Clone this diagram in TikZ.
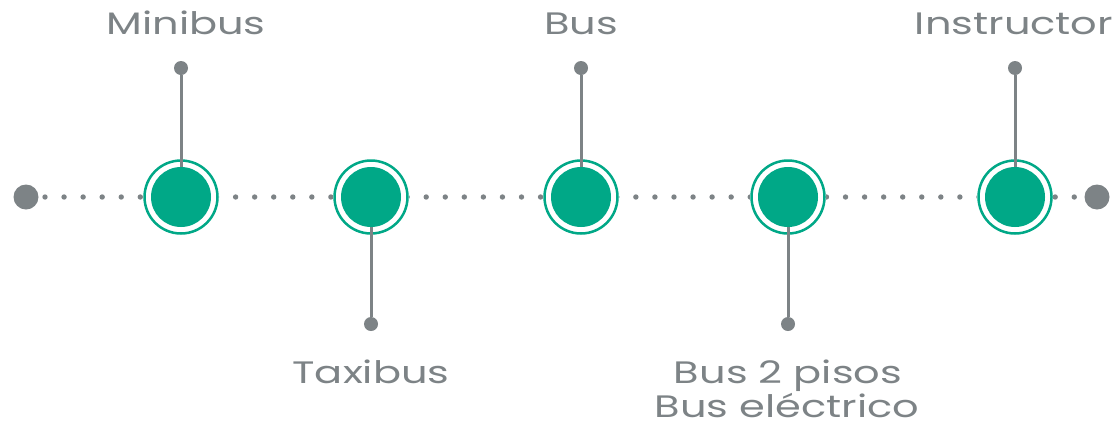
\documentclass[tikz,border=0pt]{standalone}
\usepackage{fontspec}
\setmainfont{Poppins}[FakeStretch=1.34]
\usetikzlibrary{positioning}

\definecolor{stone}{HTML}{7D8386}
\definecolor{mint}{HTML}{00A887}

\tikzset{
    enddot/.style={circle, fill=stone, inner sep=0pt, minimum size=25pt},
    tipdot/.style={circle, fill=stone, inner sep=0pt, minimum size=14pt},
    stem/.style={draw=stone, line width=3pt},
    milestone/.style={circle, fill=mint, inner sep=0pt, minimum size=60pt},
    tag/.style={text=stone, font=\fontsize{31}{35}\selectfont, inner sep=0pt, text depth=0pt, anchor=base, align=center}
}

\begin{document}
\begin{tikzpicture}[x=1pt, y=-1pt]
    \useasboundingbox (0,0) rectangle (1118,424);

    % dotted time line
    \node (start) at (26,197) [enddot] {};
    \node (stop) at (1097,197) [enddot] {};
    \foreach \i in {0,...,54}
        \fill [stone] (45+\i*19.06,197) circle (2.7);

    % white halo and green ring round each stop
    \foreach \position / \name in {181/M, 371/T, 581/B, 788/D, 1015/I} {
        \fill [white] (\position,197) circle (38);
        \draw [mint, line width=2.5pt] (\position,197) circle (36.5);
    }

    % stems and their end dots
    \foreach \position / \name in {181/M, 581/B, 1015/I}
        \node (\name top) at (\position,68) [tipdot] {};
    \foreach \position / \name in {371/T, 788/D}
        \node (\name top) at (\position,324) [tipdot] {};
    \foreach \name in {M, T, B, D, I}
        \draw [stem] (\name top) -- (\name top |- start);

    \foreach \position / \name in {181/M, 371/T, 581/B, 788/D, 1015/I}
        \node (\name) at (\position,197) [milestone] {};

    % labels
    \node (Mlabel) at (186,34) [tag] {Minibus};
    \node (Blabel) at (581,34) [tag] {Bus};
    \node (Ilabel) at (1014,34) [tag] {Instructor};
    \node (Tlabel) at (371,383) [tag] {Taxibus};
    \node (Dlabel) at (788,383) [tag] {Bus 2 pisos};
    \node (Elabel) at (787,417) [tag] {Bus eléctrico};
\end{tikzpicture}
\end{document}
